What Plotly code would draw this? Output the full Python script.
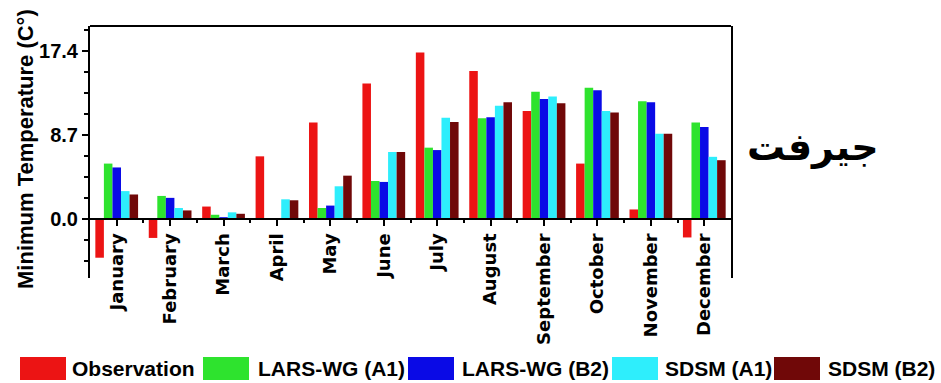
import plotly.graph_objects as go

# Monthly minimum temperature (°C): observation vs. downscaled scenarios
months = ["January", "February", "March", "April", "May", "June",
          "July", "August", "September", "October", "November", "December"]

observation = [-4.0, -1.95, 1.3, 6.5, 10.0, 14.05, 17.25, 15.35, 11.2, 5.75, 1.0, -1.9]
lars_a1 = [5.75, 2.4, 0.45, 0.0, 1.15, 3.95, 7.4, 10.45, 13.2, 13.6, 12.2, 10.0]
lars_b2 = [5.35, 2.2, 0.2, 0.0, 1.4, 3.85, 7.15, 10.55, 12.45, 13.35, 12.1, 9.55]
sdsm_a1 = [2.9, 1.15, 0.7, 2.05, 3.4, 6.95, 10.5, 11.75, 12.7, 11.2, 8.85, 6.45]
sdsm_b2 = [2.55, 0.9, 0.55, 1.95, 4.5, 6.95, 10.05, 12.1, 12.0, 11.05, 8.85, 6.1]

series_names = ["Observation", "LARS-WG (A1)", "LARS-WG (B2)", "SDSM (A1)", "SDSM (B2)"]
series_values = [observation, lars_a1, lars_b2, sdsm_a1, sdsm_b2]
series_colors = ["#ec1414", "#2ee32e", "#0a0ae6", "#2eeefc", "#700808"]

y_ticks = [0.0, 8.7, 17.4]
y_tick_labels = ["0.0", "8.7", "17.4"]

W, H = 941, 383
ML, MR, MT, MB = 90, 210, 26, 105
Y_MIN, Y_MAX = -6.1, 20.0

plot_w = W - ML - MR
plot_h = H - MT - MB


def px_x(px):
    return (px - ML) / plot_w


def px_y(py):
    return (H - MB - py) / plot_h


positions = list(range(len(months)))

fig = go.Figure()
for name, vals, color in zip(series_names, series_values, series_colors):
    fig.add_trace(go.Bar(
        x=positions, y=vals, name=name,
        marker=dict(color=color, line=dict(width=0)),
        showlegend=False,
    ))

zero_pos = (0 - Y_MIN) / (Y_MAX - Y_MIN)
minor_y = [v * 2.175 for v in range(-2, 10) if v % 4 != 0]

fig.update_layout(
    width=W, height=H,
    margin=dict(l=ML, r=MR, t=MT, b=MB, pad=0),
    paper_bgcolor="white", plot_bgcolor="white",
    barmode="group", bargap=0.2, bargroupgap=0,
    xaxis=dict(
        range=[-0.5, len(months) - 0.5],
        anchor="free", position=zero_pos,
        showline=True, linecolor="black", linewidth=2,
        showgrid=False, zeroline=False,
        tickmode="array", tickvals=positions, ticktext=months,
        ticks="outside", ticklen=6, tickwidth=2, tickcolor="black",
        tickangle=-90,
        tickfont=dict(family="DejaVu Sans", size=18, color="black", weight="bold"),
        minor=dict(tickvals=[p + 0.5 for p in positions[:-1]],
                   ticks="outside", ticklen=3, tickwidth=1.5, tickcolor="black"),
    ),
    yaxis=dict(
        range=[Y_MIN, Y_MAX],
        showline=True, linecolor="black", linewidth=2, mirror=True,
        showgrid=False, zeroline=False,
        tickmode="array", tickvals=y_ticks, ticktext=y_tick_labels,
        ticks="outside", ticklen=6, tickwidth=2, tickcolor="black",
        tickfont=dict(family="Liberation Sans, Arial", size=20, color="black", weight="bold"),
        minor=dict(tickvals=minor_y, ticks="outside", ticklen=4,
                   tickwidth=1.5, tickcolor="black"),
    ),
)

# top frame line
fig.add_shape(type="line", xref="paper", yref="paper", x0=0, x1=1, y0=1, y1=1,
              line=dict(color="black", width=2))

# y-axis title
fig.add_annotation(
    text="Minimum Temperature (C°)", textangle=-90,
    xref="paper", yref="paper", x=px_x(25), y=px_y(149),
    xanchor="center", yanchor="middle", showarrow=False,
    font=dict(family="Liberation Sans, Arial", size=22, color="black", weight="bold"),
)

# station name
fig.add_annotation(
    text="جیرفت",
    xref="paper", yref="paper", x=px_x(813), y=px_y(147),
    xanchor="center", yanchor="middle", showarrow=False,
    font=dict(family="DejaVu Sans", size=38, color="black", weight="bold"),
)

# legend row drawn beneath the axis labels
swatch_left = [20, 203, 408, 612, 774]
swatch_w = 46
text_left = [70, 256, 460, 663, 826]
for name, color, sx, tx in zip(series_names, series_colors, swatch_left, text_left):
    fig.add_shape(type="rect", xref="paper", yref="paper",
                  x0=px_x(sx), x1=px_x(sx + swatch_w), y0=px_y(380), y1=px_y(357),
                  fillcolor=color, line=dict(width=0))
    fig.add_annotation(
        text=name, xref="paper", yref="paper", x=px_x(tx), y=px_y(368.5),
        xanchor="left", yanchor="middle", showarrow=False,
        font=dict(family="Liberation Sans, Arial", size=21, color="black", weight="bold"),
    )

fig.write_html("out.html")
